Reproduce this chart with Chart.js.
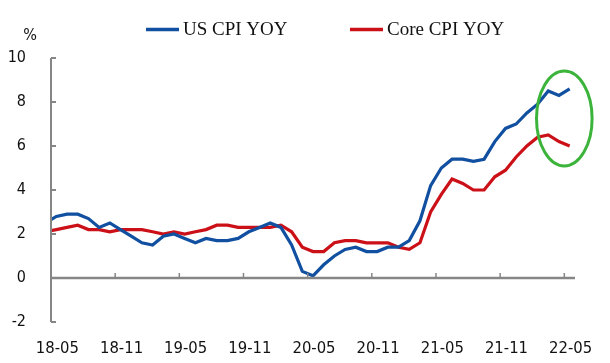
<!DOCTYPE html>
<html lang="en">
<head>
    <meta charset="UTF-8">
    <title>US CPI YOY vs Core CPI YOY</title>
    <style>
        html, body {
            margin: 0;
            padding: 0;
            background: #ffffff;
        }
        .chart-box {
            width: 610px;
            height: 363px;
        }
    </style>
    <script src="https://cdn.jsdelivr.net/npm/chart.js@4.4.1/dist/chart.umd.min.js"></script>
</head>
<body>
    <div class="chart-box">
        <canvas id="cpiChart" width="610" height="363"></canvas>
    </div>
    <script>
        // monthly, 18-04 .. 22-05 (first month only feeds the line into the left edge)
        const months = [
            '18-04', '18-05', '18-06', '18-07', '18-08', '18-09', '18-10', '18-11', '18-12',
            '19-01', '19-02', '19-03', '19-04', '19-05', '19-06', '19-07', '19-08', '19-09', '19-10', '19-11', '19-12',
            '20-01', '20-02', '20-03', '20-04', '20-05', '20-06', '20-07', '20-08', '20-09', '20-10', '20-11', '20-12',
            '21-01', '21-02', '21-03', '21-04', '21-05', '21-06', '21-07', '21-08', '21-09', '21-10', '21-11', '21-12',
            '22-01', '22-02', '22-03', '22-04', '22-05'
        ];
        const usCpi = [
            2.5, 2.8, 2.9, 2.9, 2.7, 2.3, 2.5, 2.2, 1.9,
            1.6, 1.5, 1.9, 2.0, 1.8, 1.6, 1.8, 1.7, 1.7, 1.8, 2.1, 2.3,
            2.5, 2.3, 1.5, 0.3, 0.1, 0.6, 1.0, 1.3, 1.4, 1.2, 1.2, 1.4,
            1.4, 1.7, 2.6, 4.2, 5.0, 5.4, 5.4, 5.3, 5.4, 6.2, 6.8, 7.0,
            7.5, 7.9, 8.5, 8.3, 8.6
        ];
        const coreCpi = [
            2.1, 2.2, 2.3, 2.4, 2.2, 2.2, 2.1, 2.2, 2.2,
            2.2, 2.1, 2.0, 2.1, 2.0, 2.1, 2.2, 2.4, 2.4, 2.3, 2.3, 2.3,
            2.3, 2.4, 2.1, 1.4, 1.2, 1.2, 1.6, 1.7, 1.7, 1.6, 1.6, 1.6,
            1.4, 1.3, 1.6, 3.0, 3.8, 4.5, 4.3, 4.0, 4.0, 4.6, 4.9, 5.5,
            6.0, 6.4, 6.5, 6.2, 6.0
        ];
        const seriesNames = ['US CPI YOY', 'Core CPI YOY'];
        const seriesColors = ['#1150a0', '#cc1018'];
        const yTicks = [-2, 0, 2, 4, 6, 8, 10];
        const tickMonths = ['05', '11'];

        const axisGray = '#868686';
        const sansFont = "'DejaVu Sans Condensed', 'DejaVu Sans', sans-serif";
        const serifFont = "'Liberation Serif', 'DejaVu Serif', serif";

        // axis lines, inward tick marks, legend, % label and the green ring
        const decorPlugin = {
            id: 'decor',
            afterDatasetsDraw(chart) {
                const ctx = chart.ctx;
                const area = chart.chartArea;
                const xs = chart.scales.x;
                const ys = chart.scales.y;
                const catW = xs.getPixelForValue(2) - xs.getPixelForValue(1);
                const y0 = ys.getPixelForValue(0);

                ctx.save();
                ctx.strokeStyle = axisGray;

                // y axis
                ctx.lineWidth = 2;
                ctx.beginPath();
                ctx.moveTo(area.left, area.top);
                ctx.lineTo(area.left, area.bottom);
                ctx.stroke();
                yTicks.forEach(v => {
                    const py = ys.getPixelForValue(v);
                    ctx.beginPath();
                    ctx.moveTo(area.left, py);
                    ctx.lineTo(area.left + 5, py);
                    ctx.stroke();
                });

                // zero line acting as x axis
                ctx.lineWidth = 2.5;
                ctx.beginPath();
                ctx.moveTo(area.left, y0);
                ctx.lineTo(area.right, y0);
                ctx.stroke();

                ctx.lineWidth = 1.5;
                xs.ticks.forEach(t => {
                    const lab = xs.getLabelForValue(t.value);
                    if (!tickMonths.includes(lab.slice(3))) return;
                    const px = xs.getPixelForValue(t.value) - catW / 2;
                    ctx.beginPath();
                    ctx.moveTo(px, y0);
                    ctx.lineTo(px, y0 - 5);
                    ctx.stroke();
                });

                // green ring round the last months
                const lastIdx = months.length - 1;
                const cx = xs.getPixelForValue(lastIdx) - catW / 2;
                const cy = ys.getPixelForValue(7.25);
                const ry = ys.getPixelForValue(7.25 - 2.16) - cy;
                ctx.strokeStyle = '#3cb43c';
                ctx.lineWidth = 3;
                ctx.beginPath();
                ctx.ellipse(cx, cy, catW * 2.6, ry, 0, 0, Math.PI * 2);
                ctx.stroke();

                // % label
                ctx.fillStyle = '#111111';
                ctx.font = '16px ' + sansFont;
                ctx.textAlign = 'center';
                ctx.textBaseline = 'middle';
                ctx.fillText('%', 30, 36);

                // legend
                const legendX = [146, 350];
                ctx.font = '19px ' + serifFont;
                ctx.textAlign = 'left';
                chart.data.datasets.forEach((ds, i) => {
                    ctx.strokeStyle = ds.borderColor;
                    ctx.lineWidth = 3.5;
                    ctx.beginPath();
                    ctx.moveTo(legendX[i], 29.5);
                    ctx.lineTo(legendX[i] + 33, 29.5);
                    ctx.stroke();
                    ctx.fillStyle = '#111111';
                    ctx.fillText(ds.label, legendX[i] + 37, 30);
                });
                ctx.restore();
            }
        };

        const ctx = document.getElementById('cpiChart').getContext('2d');
        new Chart(ctx, {
            type: 'line',
            data: {
                labels: months,
                datasets: [usCpi, coreCpi].map((vals, i) => ({
                    label: seriesNames[i],
                    data: vals,
                    borderColor: seriesColors[i],
                    borderWidth: 3.2,
                    pointRadius: 0,
                    tension: 0,
                    fill: false
                }))
            },
            options: {
                responsive: false,
                animation: false,
                layout: { padding: { top: 58, right: 35, left: 0, bottom: 0 } },
                plugins: {
                    legend: { display: false },
                    tooltip: { enabled: false }
                },
                scales: {
                    x: {
                        type: 'category',
                        min: '18-05',
                        offset: true,
                        grid: { display: false },
                        border: { display: false },
                        ticks: {
                            autoSkip: false,
                            maxRotation: 0,
                            padding: 9,
                            labelOffset: 1,
                            color: '#111111',
                            font: { family: sansFont, size: 16.5 },
                            callback: function (value) {
                                const lab = this.getLabelForValue(value);
                                return tickMonths.includes(lab.slice(3)) ? lab : '';
                            }
                        },
                        afterFit: scale => { scale.height = 41; }
                    },
                    y: {
                        min: -2,
                        max: 10,
                        grid: { display: false },
                        border: { display: false },
                        ticks: {
                            stepSize: 2,
                            padding: 17,
                            color: '#111111',
                            font: { family: sansFont, size: 16 }
                        },
                        afterFit: scale => { scale.width = 51; }
                    }
                }
            },
            plugins: [decorPlugin]
        });
    </script>
</body>
</html>
